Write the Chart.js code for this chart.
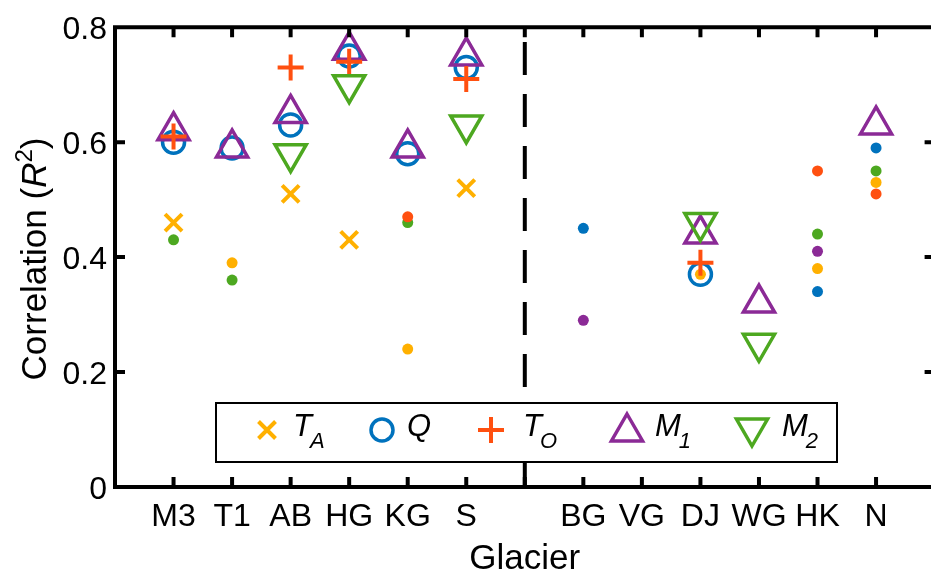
<!DOCTYPE html>
<html>
<head>
<meta charset="utf-8">
<script src="https://cdn.jsdelivr.net/npm/chart.js@4.4.1/dist/chart.umd.min.js"></script>
<style>
html, body { margin: 0; padding: 0; background: #fff; overflow: hidden; }
#chart { display: block; }
</style>
</head>
<body>
<canvas id="chart" width="940" height="581"></canvas>
<script>
// categories, x = 1..13 (slot 7 is the gap under the dashed divider)
const glaciers = ["M3", "T1", "AB", "HG", "KG", "S", "", "BG", "VG", "DJ", "WG", "HK", "N"];
const yTicks = [0, 0.2, 0.4, 0.6, 0.8];
const dividerX = 7;

// big markers (significant)
const taBig = [0.46, null, 0.51, 0.43, null, 0.52, null, null, null, null, null, null, null];
const qBig  = [0.60, 0.59, 0.63, 0.75, 0.58, 0.73, null, null, null, 0.37, null, null, null];
const toBig = [0.61, null, 0.73, 0.74, null, 0.71, null, null, null, 0.39, null, null, null];
const m1Big = [0.62, 0.59, 0.65, 0.76, 0.59, 0.75, null, null, null, 0.44, 0.32, null, 0.63];
const m2Big = [null, null, 0.58, 0.70, null, 0.63, null, null, null, 0.46, 0.25, null, null];

// small dots
const taDot = [null, 0.39, null, null, 0.24, null, null, null, null, 0.37, null, 0.38, 0.53];
const qDot  = [null, null, null, null, null, null, null, 0.45, null, null, null, 0.34, 0.59];
const toDot = [null, null, null, null, 0.47, null, null, null, null, null, null, 0.55, 0.51];
const m1Dot = [null, null, null, null, null, null, null, 0.29, null, null, null, 0.41, null];
const m2Dot = [0.43, 0.36, null, null, 0.46, null, null, null, null, null, null, 0.44, 0.55];

const colTA = "#FFB000";
const colQ  = "#0072BD";
const colTO = "#FF5010";
const colM1 = "#8B2A96";
const colM2 = "#4DA820";

const FONT = "'Liberation Sans', Arial, Helvetica, sans-serif";

const pts = arr => arr.map((v, i) => v == null ? null : { x: i + 1, y: v }).filter(Boolean);

function bigSet(data, color, style, radius, width, order, rotation) {
  return {
    data: pts(data),
    showLine: false,
    pointStyle: style,
    pointRadius: radius,
    pointBorderWidth: width,
    pointRotation: rotation || 0,
    borderColor: color,
    backgroundColor: "rgba(0,0,0,0)",
    order
  };
}

function dotSet(data, color) {
  return {
    data: pts(data),
    showLine: false,
    pointStyle: "circle",
    pointRadius: 5.5,
    pointBorderWidth: 0,
    borderColor: color,
    backgroundColor: color,
    order: 10
  };
}

// axes box, inward ticks, legend and y title
const decor = {
  id: "decor",
  afterDraw(chart) {
    const { ctx, chartArea: a, scales: { x, y } } = chart;
    ctx.save();
    ctx.strokeStyle = "#000";
    ctx.lineWidth = 4;
    ctx.lineCap = "butt";
    ctx.beginPath();
    ctx.moveTo(a.left, a.top); ctx.lineTo(a.right, a.top);
    ctx.moveTo(a.left, a.top - 2); ctx.lineTo(a.left, a.bottom + 2);
    ctx.moveTo(a.left, a.bottom); ctx.lineTo(a.right, a.bottom);
    ctx.moveTo(a.right, a.top - 2); ctx.lineTo(a.right, a.bottom + 2);
    const tl = 10;
    glaciers.forEach((g, i) => {
      const px = x.getPixelForValue(i + 1);
      ctx.moveTo(px, a.bottom); ctx.lineTo(px, a.bottom - tl);
      ctx.moveTo(px, a.top); ctx.lineTo(px, a.top + tl);
    });
    yTicks.forEach(v => {
      const py = y.getPixelForValue(v);
      ctx.moveTo(a.left, py); ctx.lineTo(a.left + tl, py);
      ctx.moveTo(a.right, py); ctx.lineTo(a.right - tl, py);
    });
    ctx.stroke();

    // legend
    const lx = 216, ly = 403, lw = 621, lh = 59, my = 430;
    ctx.fillStyle = "#fff";
    ctx.fillRect(lx, ly, lw, lh);
    ctx.lineWidth = 2;
    ctx.strokeRect(lx, ly, lw, lh);

    ctx.lineWidth = 4;
    // T_A cross
    ctx.strokeStyle = colTA;
    ctx.beginPath();
    ctx.moveTo(267 - 8.5, my - 8.5); ctx.lineTo(267 + 8.5, my + 8.5);
    ctx.moveTo(267 - 8.5, my + 8.5); ctx.lineTo(267 + 8.5, my - 8.5);
    ctx.stroke();
    // Q circle
    ctx.lineWidth = 3.5;
    ctx.strokeStyle = colQ;
    ctx.beginPath();
    ctx.arc(382, my, 11, 0, Math.PI * 2);
    ctx.stroke();
    // T_O plus
    ctx.lineWidth = 4;
    ctx.strokeStyle = colTO;
    ctx.beginPath();
    ctx.moveTo(491 - 13, my); ctx.lineTo(491 + 13, my);
    ctx.moveTo(491, my - 13); ctx.lineTo(491, my + 13);
    ctx.stroke();
    // triangles
    ctx.lineWidth = 3.5;
    const tri = (cx, cy, r, dir, col) => {
      ctx.strokeStyle = col;
      ctx.beginPath();
      ctx.moveTo(cx, cy - dir * r);
      ctx.lineTo(cx + r * 0.866, cy + dir * r / 2);
      ctx.lineTo(cx - r * 0.866, cy + dir * r / 2);
      ctx.closePath();
      ctx.stroke();
    };
    tri(627, my + 2, 18, 1, colM1);
    tri(752, my - 2, 18, -1, colM2);

    // legend labels
    ctx.fillStyle = "#000";
    ctx.textBaseline = "alphabetic";
    ctx.textAlign = "left";
    const label = (x0, main, sub) => {
      ctx.font = "italic 31px " + FONT;
      ctx.fillText(main, x0, 436);
      if (sub) {
        const w = ctx.measureText(main).width;
        ctx.font = "italic 22px " + FONT;
        ctx.fillText(sub, x0 + w - 2, 448);
      }
    };
    label(293, "T", "A");
    label(407, "Q");
    label(523, "T", "O");
    label(655, "M", "1");
    label(782, "M", "2");

    // y title with italic R and superscript
    ctx.translate(46, 259);
    ctx.rotate(-Math.PI / 2);
    const parts = [
      { t: "Correlation (", f: "35px " + FONT, dy: 0 },
      { t: "R", f: "italic 35px " + FONT, dy: 0 },
      { t: "2", f: "24px " + FONT, dy: -14 },
      { t: ")", f: "35px " + FONT, dy: 0 }
    ];
    let total = 0;
    parts.forEach(p => { ctx.font = p.f; p.w = ctx.measureText(p.t).width; total += p.w; });
    let cx = -total / 2;
    parts.forEach(p => { ctx.font = p.f; ctx.fillText(p.t, cx, p.dy); cx += p.w; });
    ctx.restore();
  }
};

new Chart(document.getElementById("chart"), {
  type: "scatter",
  data: {
    datasets: [
      {
        type: "line",
        data: [{ x: dividerX, y: 0 }, { x: dividerX, y: 0.8 }],
        borderColor: "#000",
        borderWidth: 4,
        borderDash: [33, 19],
        borderDashOffset: 4,
        pointRadius: 0,
        order: 20
      },
      dotSet(taDot, colTA),
      dotSet(qDot, colQ),
      dotSet(toDot, colTO),
      dotSet(m1Dot, colM1),
      dotSet(m2Dot, colM2),
      bigSet(taBig, colTA, "crossRot", 12, 4, 5),
      bigSet(qBig, colQ, "circle", 11, 3.5, 4),
      bigSet(m1Big, colM1, "triangle", 18, 3.5, 3),
      bigSet(toBig, colTO, "cross", 13, 4, 2),
      bigSet(m2Big, colM2, "triangle", 18, 3.5, 1, 180)
    ]
  },
  options: {
    responsive: false,
    animation: false,
    events: [],
    layout: { autoPadding: false, padding: { top: 23, right: 5.4, left: 0, bottom: 0 } },
    plugins: {
      legend: { display: false },
      tooltip: { enabled: false }
    },
    scales: {
      x: {
        type: "linear",
        min: 0,
        max: glaciers.length + 1,
        afterBuildTicks: s => { s.ticks = [...Array(glaciers.length + 2).keys()].map(v => ({ value: v })); },
        afterFit: s => { s.height = 94; s.paddingLeft = 0; s.paddingRight = 0; },
        grid: { display: false, drawTicks: false },
        border: { display: false },
        ticks: {
          autoSkip: false,
          maxRotation: 0,
          padding: 11,
          color: "#000",
          font: { family: FONT, size: 32 },
          callback: v => glaciers[v - 1] || ""
        },
        title: {
          display: true,
          text: "Glacier",
          color: "#000",
          font: { family: FONT, size: 35 },
          padding: { top: 0, bottom: 1 }
        }
      },
      y: {
        min: 0,
        max: 0.8,
        afterBuildTicks: s => { s.ticks = yTicks.map(v => ({ value: v })); },
        afterFit: s => { s.width = 115; },
        grid: { display: false, drawTicks: false },
        border: { display: false },
        ticks: {
          padding: 8,
          labelOffset: 3,
          color: "#000",
          font: { family: FONT, size: 32 },
          callback: v => String(v)
        }
      }
    }
  },
  plugins: [decor]
});
</script>
</body>
</html>
